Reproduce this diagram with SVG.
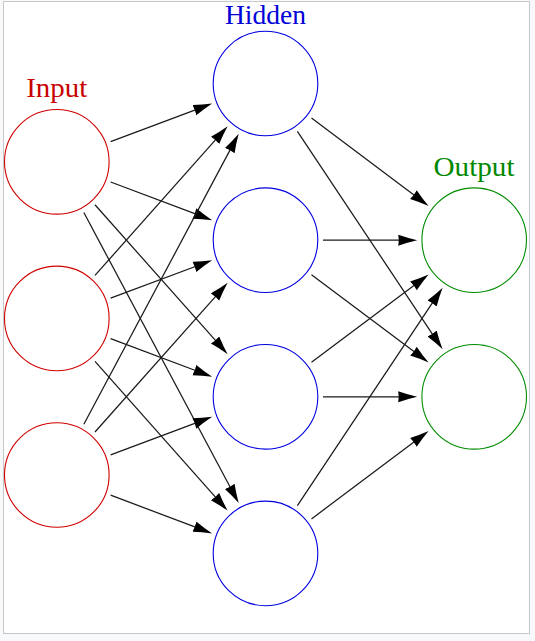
<svg xmlns="http://www.w3.org/2000/svg" width="535" height="641" viewBox="0 0 535 641">
<defs>
<style>
.bg{fill:#f8f9fa}
.frame{fill:#ffffff;stroke:#c8c8c8;stroke-width:1}
.node{fill:none;stroke-width:1.1}
.in{stroke:#d00000}
.hid{stroke:#0000e0}
.out{stroke:#008c00}
.lbl{font-family:"Liberation Serif","Times New Roman",serif;font-size:27px;text-anchor:middle}
.edge{stroke:#1a1a1a;stroke-width:1.25;fill:none;marker-end:url(#arr)}
</style>
<marker id="arr" markerUnits="userSpaceOnUse" markerWidth="21" markerHeight="13" viewBox="0 0 21 13" refX="9" refY="5.5" orient="auto">
<path d="M0,0 Q9,3.2 19,5.5 Q9,7.8 0,11 Q1,5.5 0,0 Z" fill="#000000"/>
</marker>
</defs>
<rect class="bg" x="0" y="0" width="535" height="641"/>
<rect class="frame" x="3.5" y="1.5" width="526" height="632"/>

<g id="connectors">
<line class="edge" x1="110.64" y1="141.60" x2="202.77" y2="107.04"/>
<line class="edge" x1="110.64" y1="182.00" x2="202.77" y2="216.66"/>
<line class="edge" x1="94.98" y1="204.79" x2="221.01" y2="346.70"/>
<line class="edge" x1="83.85" y1="212.55" x2="233.98" y2="494.27"/>

<line class="edge" x1="94.98" y1="275.41" x2="221.01" y2="133.60"/>
<line class="edge" x1="110.64" y1="298.20" x2="202.77" y2="263.74"/>
<line class="edge" x1="110.64" y1="338.60" x2="202.77" y2="373.26"/>
<line class="edge" x1="94.98" y1="361.39" x2="221.01" y2="503.30"/>

<line class="edge" x1="83.85" y1="424.25" x2="233.98" y2="142.63"/>
<line class="edge" x1="94.98" y1="432.01" x2="221.01" y2="290.30"/>
<line class="edge" x1="110.64" y1="454.80" x2="202.77" y2="420.34"/>
<line class="edge" x1="110.64" y1="495.20" x2="202.77" y2="529.86"/>

<line class="edge" x1="311.5" y1="118.01" x2="420.61" y2="199.99"/>
<line class="edge" x1="297.38" y1="131.36" x2="437.05" y2="341.03"/>
<line class="edge" x1="323" y1="240.2" x2="407.2" y2="240.2"/>
<line class="edge" x1="311.5" y1="274.71" x2="420.61" y2="356.59"/>
<line class="edge" x1="311.5" y1="362.29" x2="420.61" y2="280.41"/>
<line class="edge" x1="323" y1="396.8" x2="407.2" y2="396.8"/>
<line class="edge" x1="297.38" y1="505.54" x2="437.05" y2="295.97"/>
<line class="edge" x1="311.5" y1="518.89" x2="420.61" y2="437.01"/>
</g>

<g id="label-input"><text class="lbl" x="56.7" y="97.3" fill="#c80000" textLength="61" lengthAdjust="spacingAndGlyphs">Input</text></g>
<g id="label-hidden"><text class="lbl" x="265.5" y="24" fill="#0000d8" textLength="81" lengthAdjust="spacingAndGlyphs">Hidden</text></g>
<g id="label-output"><text class="lbl" x="474" y="175.7" fill="#008800" textLength="81" lengthAdjust="spacingAndGlyphs">Output</text></g>

<g id="input-1"><circle class="node in" cx="56.8" cy="161.8" r="52.3"/></g>
<g id="input-2"><circle class="node in" cx="56.8" cy="318.4" r="52.3"/></g>
<g id="input-3"><circle class="node in" cx="56.8" cy="475.0" r="52.3"/></g>

<g id="hidden-1"><circle class="node hid" cx="265.5" cy="83.5" r="52.3"/></g>
<g id="hidden-2"><circle class="node hid" cx="265.5" cy="240.2" r="52.3"/></g>
<g id="hidden-3"><circle class="node hid" cx="265.5" cy="396.8" r="52.3"/></g>
<g id="hidden-4"><circle class="node hid" cx="265.5" cy="553.4" r="52.3"/></g>

<g id="output-1"><circle class="node out" cx="474.2" cy="240.2" r="52.3"/></g>
<g id="output-2"><circle class="node out" cx="474.2" cy="396.8" r="52.3"/></g>
</svg>
